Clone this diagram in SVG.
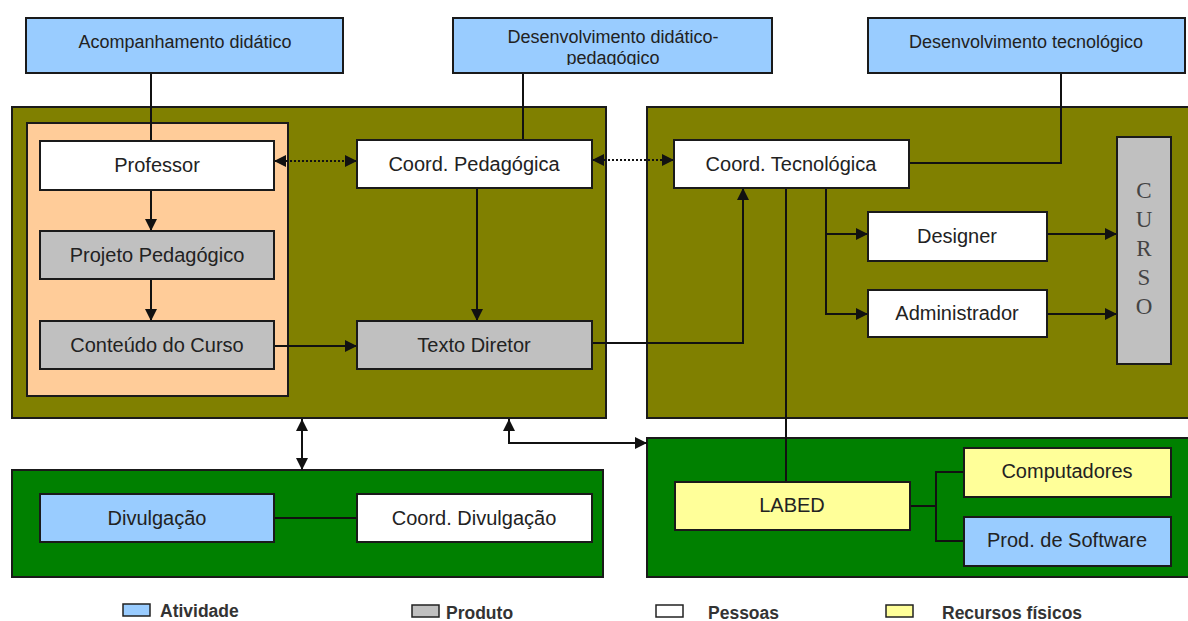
<svg xmlns="http://www.w3.org/2000/svg" width="1188" height="621" viewBox="0 0 1188 621">
<style>
.box{stroke:#1a1a1a;stroke-width:2}
.blue{fill:#99CCFF}.white{fill:#FFFFFF}.gray{fill:#C0C0C0}.yellow{fill:#FFFF99}
.olive{fill:#808000;stroke:#1a1a1a;stroke-width:2}
.green{fill:#008000;stroke:#1a1a1a;stroke-width:2}
.peach{fill:#FFCC99;stroke:#1a1a1a;stroke-width:2}
.t{font-family:"Liberation Sans",Arial,sans-serif;font-size:20px;fill:#222;text-anchor:middle}
.tt{font-family:"Liberation Sans",Arial,sans-serif;font-size:18px;fill:#222;text-anchor:middle}
.cur{font-family:"Liberation Serif","Times New Roman",serif;font-size:23px;fill:#444;text-anchor:middle}
.leg{font-family:"Liberation Sans",Arial,sans-serif;font-size:17.5px;font-weight:bold;fill:#333}
.ln{fill:none;stroke:#111;stroke-width:2}
.dot{fill:none;stroke:#111;stroke-width:2;stroke-dasharray:2 2}
</style>
<defs>
<marker id="ah" viewBox="0 0 10 10" refX="10" refY="5" markerWidth="12" markerHeight="12" markerUnits="userSpaceOnUse" orient="auto-start-reverse">
<path d="M0,0 L10,5 L0,10 z" fill="#111"/>
</marker>
<clipPath id="clipDP"><rect x="453" y="18" width="319" height="47"/></clipPath>
</defs>
<rect width="1188" height="621" fill="#FFFFFF"/>

<g id="panels">
<rect id="olive-left" class="olive" x="12" y="107" width="594" height="311"/>
<rect id="olive-right" class="olive" x="647" y="107" width="545" height="311"/>
<rect id="peach" class="peach" x="27" y="123" width="261" height="273"/>
<rect id="green-left" class="green" x="12" y="470" width="591" height="107"/>
<rect id="green-right" class="green" x="647" y="438" width="545" height="139"/>
</g>

<g id="connectors">
<line class="ln" x1="151" y1="73" x2="151" y2="141"/>
<line class="ln" x1="523" y1="73" x2="523" y2="140"/>
<polyline class="ln" points="1061,73 1061,163 909,163"/>
<line class="dot" x1="274" y1="161" x2="357" y2="161" marker-start="url(#ah)" marker-end="url(#ah)"/>
<line class="dot" x1="592" y1="160" x2="674" y2="160" marker-start="url(#ah)" marker-end="url(#ah)"/>
<line class="ln" x1="151" y1="190" x2="151" y2="231" marker-end="url(#ah)"/>
<line class="ln" x1="151" y1="279" x2="151" y2="321" marker-end="url(#ah)"/>
<line class="ln" x1="274" y1="346" x2="357" y2="346" marker-end="url(#ah)"/>
<line class="ln" x1="477" y1="188" x2="477" y2="321" marker-end="url(#ah)"/>
<polyline class="ln" points="592,343 743,343 743,188" marker-end="url(#ah)"/>
<polyline class="ln" points="826,188 826,314 868,314" marker-end="url(#ah)"/>
<line class="ln" x1="826" y1="234" x2="868" y2="234" marker-end="url(#ah)"/>
<line class="ln" x1="1047" y1="234" x2="1117" y2="234" marker-end="url(#ah)"/>
<line class="ln" x1="1047" y1="314" x2="1117" y2="314" marker-end="url(#ah)"/>
<line class="ln" x1="786" y1="188" x2="786" y2="482"/>
<line class="ln" x1="274" y1="518" x2="357" y2="518"/>
<polyline class="ln" points="910,506 936,506"/>
<polyline class="ln" points="964,472 936,472 936,541 964,541"/>
<line class="ln" x1="302" y1="419" x2="302" y2="470" marker-start="url(#ah)" marker-end="url(#ah)"/>
<polyline class="ln" points="509,419 509,443 647,443" marker-start="url(#ah)" marker-end="url(#ah)"/>
</g>

<g id="n-acomp"><rect class="box blue" x="26" y="18" width="317" height="55"/><text class="tt" x="185" y="48">Acompanhamento didático</text></g>
<g id="n-desdp"><rect class="box blue" x="453" y="18" width="319" height="55"/><g clip-path="url(#clipDP)"><text class="tt" x="613" y="43">Desenvolvimento didático-</text><text class="tt" x="613" y="64">pedagógico</text></g></g>
<g id="n-destec"><rect class="box blue" x="868" y="18" width="317" height="55"/><text class="tt" x="1026" y="48">Desenvolvimento tecnológico</text></g>

<g id="n-prof"><rect class="box white" x="40" y="141" width="234" height="49"/><text class="t" x="157" y="172">Professor</text></g>
<g id="n-proj"><rect class="box gray" x="40" y="231" width="234" height="48"/><text class="t" x="157" y="262">Projeto Pedagógico</text></g>
<g id="n-cont"><rect class="box gray" x="40" y="321" width="234" height="48"/><text class="t" x="157" y="352">Conteúdo do Curso</text></g>
<g id="n-cped"><rect class="box white" x="357" y="140" width="235" height="48"/><text class="t" x="474" y="171">Coord. Pedagógica</text></g>
<g id="n-texto"><rect class="box gray" x="357" y="321" width="235" height="48"/><text class="t" x="474" y="352">Texto Diretor</text></g>
<g id="n-ctec"><rect class="box white" x="674" y="140" width="235" height="48"/><text class="t" x="791" y="171">Coord. Tecnológica</text></g>
<g id="n-designer"><rect class="box white" x="868" y="212" width="179" height="49"/><text class="t" x="957" y="243">Designer</text></g>
<g id="n-admin"><rect class="box white" x="868" y="290" width="179" height="47"/><text class="t" x="957" y="320">Administrador</text></g>
<g id="n-curso"><rect class="box gray" x="1117" y="137" width="54" height="227"/>
<text class="cur" x="1144" y="198">C</text><text class="cur" x="1144" y="227">U</text><text class="cur" x="1144" y="256">R</text><text class="cur" x="1144" y="285">S</text><text class="cur" x="1144" y="314">O</text></g>
<g id="n-div"><rect class="box blue" x="40" y="494" width="234" height="48"/><text class="t" x="157" y="525">Divulgação</text></g>
<g id="n-cdiv"><rect class="box white" x="357" y="494" width="235" height="48"/><text class="t" x="474" y="525">Coord. Divulgação</text></g>
<g id="n-labed"><rect class="box yellow" x="675" y="482" width="235" height="48"/><text class="t" x="792" y="512">LABED</text></g>
<g id="n-comp"><rect class="box yellow" x="964" y="448" width="207" height="49"/><text class="t" x="1067" y="478">Computadores</text></g>
<g id="n-soft"><rect class="box blue" x="964" y="517" width="207" height="49"/><text class="t" x="1067" y="547">Prod. de Software</text></g>

<g id="legend">
<rect class="blue" x="123" y="604" width="27" height="12" stroke="#222" stroke-width="1.5"/><text class="leg" x="160" y="617">Atividade</text>
<rect class="gray" x="412" y="605" width="27" height="12" stroke="#222" stroke-width="1.5"/><text class="leg" x="446" y="619">Produto</text>
<rect class="white" x="656" y="605" width="27" height="12" stroke="#222" stroke-width="1.5"/><text class="leg" x="708" y="619">Pessoas</text>
<rect class="yellow" x="886" y="605" width="27" height="12" stroke="#222" stroke-width="1.5"/><text class="leg" x="942" y="619">Recursos físicos</text>
</g>
</svg>
